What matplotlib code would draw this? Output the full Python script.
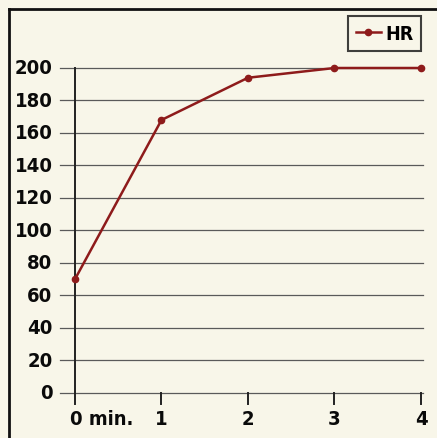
import matplotlib
matplotlib.use('Agg')
import matplotlib.pyplot as plt
from matplotlib.lines import Line2D

# Heart rate over time
minutes = [0, 1, 2, 3, 4]
heart_rate = [70, 168, 194, 200, 200]
x_labels = ['0 min.', '1', '2', '3', '4']
y_ticks = list(range(0, 201, 20))

BG = '#f8f6e9'
LINE_RED = '#8e1b1b'
FONT = dict(family='DejaVu Sans', weight='bold', stretch='condensed')

fig = plt.figure(figsize=(4.37, 4.39), dpi=100)
fig.patch.set_facecolor(BG)

W, H = 437, 439
ax = fig.add_axes([60 / W, 1 - 405 / H, (423 - 60) / W, (405 - 69) / H])
ax.set_facecolor('none')
ax.set_xlim(-0.173, 4.023)
ax.set_ylim(-6.8, 200)

# horizontal rules, running left of the y axis
for v in y_ticks:
    ax.plot([-0.173, 4.023], [v, v], color='#5a5a5a', lw=0.9, clip_on=False, zorder=1)

# y axis line and x ticks below the baseline
ax.plot([0, 0], [-6.8, 200], color='#222222', lw=1.4, clip_on=False, zorder=2)
for m in minutes[1:]:
    ax.plot([m, m], [-6.8, 0], color='#222222', lw=1.4, clip_on=False, zorder=2)

for s in ax.spines.values():
    s.set_visible(False)
ax.set_xticks([])
ax.set_yticks([])

for v in y_ticks:
    ax.text(-0.26, v, str(v), ha='right', va='center', fontsize=14.5, color='#0a0a0a', **FONT)
for m, lab in zip(minutes, x_labels):
    if m == 0:
        # first label starts under the axis so its "0" sits on the tick
        ax.text(-0.06, -16, lab, ha='left', va='center', fontsize=14.5, color='#0a0a0a', **FONT)
    else:
        ax.text(m, -16, lab, ha='center', va='center', fontsize=14.5, color='#0a0a0a', **FONT)

ax.plot(minutes, heart_rate, color=LINE_RED, lw=1.8, marker='o', markersize=4.5,
        clip_on=False, zorder=3)

# outer frame
fig.add_artist(Line2D([9 / W, 9 / W], [0, 1 - 10 / H], color='#111111', lw=2))
fig.add_artist(Line2D([9 / W, 1], [1 - 10 / H, 1 - 10 / H], color='#111111', lw=2))

handle = Line2D([], [], color=LINE_RED, lw=1.8, marker='o', markersize=4.5)
leg = fig.legend([handle], ['HR'], loc='upper right',
                 bbox_to_anchor=(421 / W, 1 - 17 / H), frameon=True, fancybox=False,
                 edgecolor='#111111', facecolor='none', handlelength=1.3,
                 borderpad=0.4, handletextpad=0.2, borderaxespad=0,
                 prop=dict(family='DejaVu Sans', weight='bold', stretch='condensed', size=14))
leg.get_frame().set_linewidth(1.5)

fig.savefig('out.png', dpi=100, facecolor=BG)
